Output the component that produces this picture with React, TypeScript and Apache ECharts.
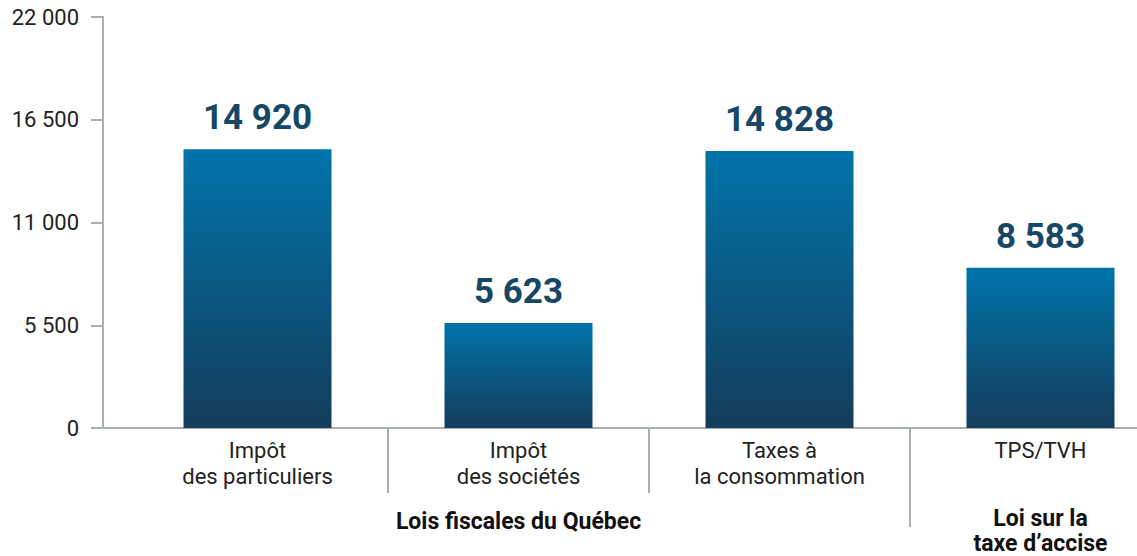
import React, { useEffect, useRef } from "react";
import * as echarts from "echarts";

const categories = ["Impôt\ndes particuliers", "Impôt\ndes sociétés", "Taxes à\nla consommation", "TPS/TVH"];
const values = [14920, 5623, 14828, 8583];
const yTicks = [0, 5500, 11000, 16500, 22000];
const groupLabels = ["Lois fiscales du Québec", "Loi sur la\ntaxe d’accise"];
const groupSpans = [[0, 3], [3, 4]];

const fmt = (v: number) => String(v).replace(/\B(?=(\d{3})+(?!\d))/g, " ");

const GRID_LEFT = 127;
const GRID_TOP = 17;
const GRID_W = 1044;
const GRID_H = 411;
const AXIS_COLOR = "#A9B0B1";

export default function App() {
  const ref = useRef<HTMLDivElement>(null);
  useEffect(() => {
    const chart = echarts.init(ref.current!, null, { renderer: "svg" });
    const n = categories.length;
    const cw = GRID_W / n;
    const bottom = GRID_TOP + GRID_H;
    const dividers = [1, 2, 3].map((i) => ({
      type: "line",
      shape: { x1: GRID_LEFT + i * cw, y1: bottom, x2: GRID_LEFT + i * cw, y2: bottom + (i === 3 ? 99 : 65) },
      style: { stroke: AXIS_COLOR, lineWidth: 2 },
      silent: true,
    }));
    const groupY = [bottom + 93, bottom + 102.5];
    const groupTexts = groupLabels.map((t, gi) => {
      const [a, b] = groupSpans[gi];
      const cx = GRID_LEFT + ((a + b) / 2) * cw;
      return {
        type: "text",
        x: cx,
        y: groupY[gi],
        style: {
          text: t,
          fill: "#111",
          font: "bold 23px Roboto",
          textAlign: "center",
          textVerticalAlign: "middle",
          lineHeight: 25,
        },
      };
    });
    chart.setOption({
      animation: false,
      textStyle: { fontFamily: "Roboto" },
      grid: { left: GRID_LEFT, top: GRID_TOP, width: GRID_W, height: GRID_H, outerBoundsMode: "none", containLabel: false },
      xAxis: {
        type: "category",
        data: categories,
        axisLine: { lineStyle: { color: AXIS_COLOR, width: 2 } },
        axisTick: { show: false },
        axisLabel: { color: "#222", fontSize: 22, lineHeight: 26, margin: 9, fontFamily: "Roboto" },
      },
      yAxis: {
        type: "value",
        min: 0,
        max: 22000,
        interval: 5500,
        offset: 24,
        axisLine: { show: true, lineStyle: { color: AXIS_COLOR, width: 2 } },
        axisTick: { show: true, length: 12, lineStyle: { color: AXIS_COLOR, width: 2 } },
        splitLine: { show: false },
        axisLabel: {
          color: "#222",
          fontSize: 22,
          margin: 24,
          fontFamily: "Roboto",
          formatter: (v: number) => (yTicks.includes(v) ? fmt(v) : ""),
        },
      },
      series: [
        {
          type: "bar",
          data: values,
          barWidth: 148,
          itemStyle: {
            color: new echarts.graphic.LinearGradient(0, 0, 0, 1, [
              { offset: 0, color: "#0074AA" },
              { offset: 1, color: "#143C5B" },
            ]),
          },
          label: {
            show: true,
            position: "top",
            distance: 14,
            color: "#174766",
            fontSize: 35,
            fontWeight: "bold",
            fontFamily: "Roboto",
            formatter: (p: any) => fmt(p.value),
          },
        },
      ],
      graphic: [
        {
          type: "line",
          shape: { x1: GRID_LEFT - 36, y1: bottom, x2: GRID_LEFT, y2: bottom },
          style: { stroke: AXIS_COLOR, lineWidth: 2 },
          silent: true,
        },
        ...dividers,
        ...groupTexts,
      ],
    });
    return () => chart.dispose();
  }, []);
  return <div ref={ref} style={{ position: "fixed", left: 0, top: 0, width: 1137, height: 556, background: "#fff" }} />;
}
